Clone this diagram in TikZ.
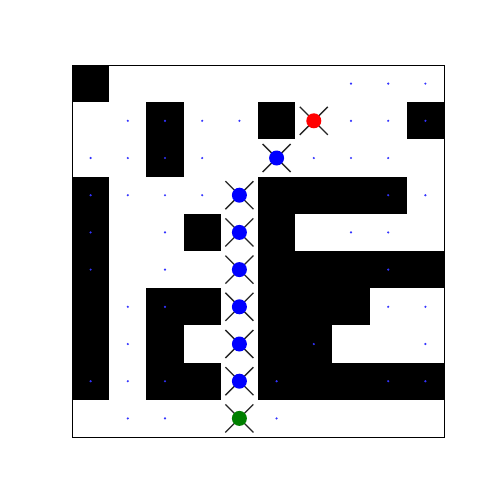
\documentclass[tikz,border=0pt]{standalone}
\usetikzlibrary{calc}
\begin{document}
\begin{tikzpicture}[x=1pt,y=-1pt,
  wall/.style={fill=black},
  crumb/.style={fill=blue!80,draw=none},
  cross/.style={draw=black!85,line width=1.3pt},
  agent/.style={circle,fill=blue,draw=none,minimum size=15pt,inner sep=0pt},
  goal/.style={circle,fill=red,draw=none,minimum size=15pt,inner sep=0pt},
  start/.style={circle,fill=green!50!black,draw=none,minimum size=15pt,inner sep=0pt}]
\useasboundingbox (0,0) rectangle (480,480);
\fill[white] (0,0) rectangle (480,480);
\def\cs{37.2}
% walls
\foreach \c/\r in {0/0, 2/1,5/1,9/1, 2/2, 0/3,5/3,6/3,7/3,8/3, 0/4,3/4,5/4,
  0/5,5/5,6/5,7/5,8/5,9/5, 0/6,2/6,3/6,5/6,6/6,7/6, 0/7,2/7,5/7,6/7,
  0/8,2/8,3/8,5/8,6/8,7/8,8/8,9/8}
  \fill[wall] ({72+\cs*\c},{65+\cs*\r}) rectangle ({72+\cs*(\c+1)},{65+\cs*(\r+1)});
% small dots
\foreach \c/\r in {7/0,8/0,9/0, 1/1,2/1,3/1,4/1,7/1,8/1,9/1,
  0/2,1/2,2/2,3/2,6/2,7/2,8/2, 0/3,1/3,2/3,3/3,8/3,9/3,
  0/4,2/4,7/4,8/4, 0/5,2/5,8/5, 1/6,2/6,8/6,9/6, 1/7,6/7,9/7,
  0/8,1/8,2/8,5/8,8/8,9/8, 1/9,2/9,5/9}
  \fill[crumb] ({72+\cs*(\c+0.5)},{65+\cs*(\r+0.5)}) circle (1.2);
% frame
\draw[line width=1pt] (72,65) rectangle (444,437);
% markers
\foreach \n/\c/\r in {g/6/1, a/5/2, b/4/3, c/4/4, d/4/5, e/4/6, f/4/7, h/4/8, s/4/9}
  \coordinate (p\n) at ({72+\cs*(\c+0.5)},{65+\cs*(\r+0.5)});
\foreach \n in {g,a,b,c,d,e,f,h,s}{
  \draw[cross] ($(p\n)+(-14,-14)$) -- ($(p\n)+(14,14)$);
  \draw[cross] ($(p\n)+(-14,14)$) -- ($(p\n)+(14,-14)$);
}
\node[goal] (ng) at (pg) {};
\foreach \n in {a,b,c,d,e,f,h} \node[agent] (n\n) at (p\n) {};
\node[start] (ns) at (ps) {};
\end{tikzpicture}
\end{document}
